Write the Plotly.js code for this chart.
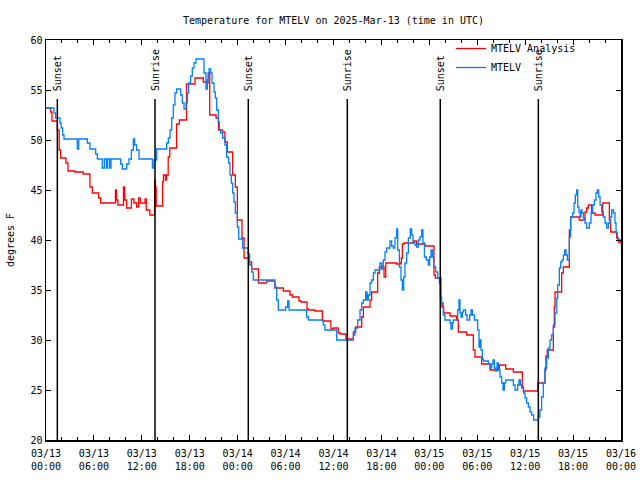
<!DOCTYPE html>
<html>
<head>
<meta charset="utf-8">
<script src="https://cdn.plot.ly/plotly-3.0.1.min.js"></script>
<style>html,body{margin:0;padding:0;background:#fff;}#chart{width:640px;height:480px;}</style>
</head>
<body>
<div id="chart"></div>
<script>
// ---- Data (hours after 2025-03-13 00:00 UTC, temperature in degrees F) ----
const startDate = '2025-03-13 00:00';
const endDate = '2025-03-16 00:00';

const analysisName = 'MTELV Analysis';
const analysisHours = [0,0.58,0.75,1.42,1.65,1.84,2.5,2.75,3.6,4.67,5.5,5.8,6.6,6.85,8.7,8.82,9.0,9.7,9.85,10.1,10.7,11.0,11.35,11.6,11.8,12.4,12.55,13.0,13.6,13.7,13.8,14.6,14.7,14.95,15.1,15.3,15.5,16.35,16.7,17.6,18.66,19.7,20.1,20.3,20.5,21.3,21.6,22.1,22.4,22.7,23.37,23.71,23.96,24.54,24.8,25.45,25.75,26.6,27.63,28.67,29.72,30.55,30.85,31.68,31.93,32.68,32.85,33.68,34.6,35.68,35.98,36.6,36.81,37.56,38.49,38.78,39.53,39.74,40.58,40.78,41.53,41.74,42.33,42.54,43.91,44.41,44.5,44.62,44.83,46.0,46.41,47.46,48.58,48.75,49.46,49.6,49.8,50.59,51.42,51.63,52.68,53.51,53.72,54.55,55.6,56.77,57.56,58.52,59.64,59.77,61.56,62.48,62.6,62.77,63.53,63.65,63.74,64.57,64.78,65.53,65.7,66.78,67.49,67.7,67.91,68.33,68.75,69.71,70.54,70.71,71.46,71.67,72];
const analysisTemps = [53.2,52.8,51.9,51.0,49.0,48.2,47.7,46.9,46.8,46.6,45.3,44.7,44.2,43.7,45.0,44.0,43.5,45.3,44.0,43.2,44.1,43.7,43.3,44.2,43.7,44.1,43.0,42.5,46.0,45.3,43.4,45.8,46.5,46.0,46.5,48.3,49.2,51.6,52.0,55.6,56.2,55.8,55.7,56.7,52.5,52.2,51.0,50.8,49.8,48.8,46.5,45.3,42.0,40.2,38.2,37.8,37.1,35.7,35.9,35.2,34.9,34.5,34.3,33.9,33.8,33.1,33.0,32.9,31.9,31.1,31.2,30.7,30.6,30.1,30.8,31.3,32.3,33.3,34.0,34.8,36.7,37.3,36.3,37.7,37.6,37.7,38.2,39.6,39.7,39.9,39.6,39.4,36.5,36.2,33.5,33.3,32.7,32.4,32.0,30.8,30.5,29.0,28.3,27.6,27.0,27.5,27.1,26.8,25.3,24.9,25.7,27.0,28.4,29.0,31.3,33.3,34.8,36.7,37.3,41.0,42.3,42.0,42.8,43.2,43.5,42.7,42.5,43.7,42.0,40.8,40.2,39.8,39.6];

const obsName = 'MTELV';
const obsHours = [0,1.0,1.2,1.75,1.9,2.09,2.25,3.92,4.1,5.18,5.51,6.22,6.43,7.05,7.3,7.55,7.72,7.97,8.14,9.35,9.56,10.1,10.39,10.69,10.94,11.1,11.35,11.65,13.32,13.52,13.86,15.11,15.32,15.53,15.74,15.94,16.15,16.36,16.86,17.07,17.28,17.53,17.7,17.86,18.11,18.32,18.53,18.78,19.78,20.03,20.2,20.41,20.62,20.79,21.04,21.2,21.37,21.58,21.71,21.87,22.12,22.41,22.62,22.87,23.04,23.21,23.37,23.54,23.71,23.96,24.13,24.63,25.3,25.5,25.75,25.96,28.67,28.88,29.09,30.01,30.26,30.43,32.64,32.85,34.73,34.93,36.4,38.49,38.69,39.03,39.32,39.53,39.74,40.03,40.2,40.36,40.57,40.78,40.99,41.2,41.82,42.03,42.24,42.45,42.66,43.07,43.28,43.49,43.7,43.91,44.04,44.25,44.45,44.62,44.79,44.95,45.16,45.37,45.62,45.79,45.96,46.2,46.41,46.62,46.83,47.04,47.21,47.38,47.63,47.88,48.04,48.21,48.38,48.55,48.8,49.05,49.26,49.38,49.54,49.75,49.96,50.59,50.71,50.88,51.0,51.55,51.71,51.84,51.97,52.13,52.3,52.55,52.72,53.05,53.22,53.39,53.64,54.05,54.22,54.35,54.47,54.64,54.76,55.39,55.6,55.81,55.97,56.14,56.31,56.48,56.64,56.85,57.06,57.23,57.39,57.56,58.52,58.73,59.06,59.23,59.4,59.56,59.81,59.98,60.19,60.4,60.61,60.82,61.06,61.65,61.85,62.06,62.27,62.48,62.69,62.9,63.11,63.32,63.53,63.74,63.95,64.07,64.28,64.45,64.62,64.78,64.95,65.12,65.28,65.53,65.7,65.95,66.12,66.28,66.45,66.58,66.74,66.87,66.99,67.12,67.29,67.49,67.7,68.04,68.25,68.45,68.66,68.87,69.04,69.21,69.38,69.58,69.79,70.0,70.21,70.42,70.63,70.84,71.05,71.25,71.38,71.55,71.71,72];
const obsTemps = [53.2,52.7,52.2,51.7,51.2,50.5,50.1,49.1,50.1,49.7,49.1,48.6,48.1,47.2,48.1,47.2,48.1,47.2,48.1,47.6,47.1,47.6,48.1,49.0,50.1,49.5,49.0,48.1,47.2,48.0,49.1,49.7,50.2,51.0,52.2,53.5,54.7,55.1,54.5,53.7,53.1,53.7,54.7,55.7,56.4,57.2,57.7,58.1,56.7,55.1,56.0,57.1,56.7,55.7,54.8,54.2,53.0,51.8,51.0,50.7,50.2,49.5,48.3,47.7,46.5,45.7,44.7,43.8,42.7,41.3,40.1,39.2,38.6,37.5,36.8,36.0,35.3,34.0,33.0,33.3,33.9,33.0,32.3,32.0,31.5,31.0,30.0,30.5,31.2,32.0,33.0,33.7,34.0,34.8,34.0,34.5,35.7,36.0,36.7,37.0,37.7,37.1,38.0,38.8,39.2,39.9,39.4,39.2,40.2,41.1,39.0,37.3,36.0,35.0,36.3,37.7,38.7,40.2,41.1,40.5,39.8,39.5,39.3,40.0,40.3,41.0,39.7,38.3,38.0,37.5,38.3,39.0,38.3,37.3,36.8,36.2,35.7,34.3,33.7,32.5,32.0,31.7,31.1,31.7,32.0,33.0,34.0,32.7,32.3,32.8,33.0,32.5,32.0,32.5,33.0,32.5,32.0,31.0,29.3,30.0,29.0,28.1,27.9,27.6,27.2,27.6,28.0,27.2,26.9,27.7,27.0,26.3,25.7,25.0,25.7,26.0,25.5,25.0,25.5,26.0,25.5,25.2,24.7,24.2,23.7,23.3,22.8,22.5,22.0,22.3,23.0,24.3,25.7,27.2,28.2,29.2,30.0,30.5,31.5,32.7,34.2,35.5,37.2,37.8,38.0,38.5,39.0,38.5,38.0,40.3,42.3,42.7,43.7,44.5,45.0,43.3,42.8,42.3,43.0,42.7,42.2,41.7,41.2,41.7,42.7,43.5,44.0,44.7,45.0,44.3,43.5,42.8,42.3,41.7,41.2,41.7,42.3,43.0,42.7,41.7,40.7,40.1,40.0,40.0];

const sunHours = [1.42, 13.65, 25.33, 37.73, 49.37, 61.65];
const sunLabels = ['Sunset', 'Sunrise', 'Sunset', 'Sunrise', 'Sunset', 'Sunrise'];

const titleText = 'Temperature for MTELV on 2025-Mar-13 (time in UTC)';
const yTitle = 'degrees F';

// ---- helpers ----
const T0 = Date.UTC(2025, 2, 13);
function toTime(h) {
  const d = new Date(T0 + Math.round(h * 3600000));
  return d.toISOString().replace('T', ' ').slice(0, 19);
}

const FONT = 'DejaVu Sans Mono, Liberation Mono, monospace';

const traces = [
  {
    x: analysisHours.map(toTime), y: analysisTemps, name: analysisName,
    type: 'scatter', mode: 'lines', line: {color: '#ff0000', width: 1.3, shape: 'hv'}
  },
  {
    x: obsHours.map(toTime), y: obsTemps, name: obsName,
    type: 'scatter', mode: 'lines', line: {color: '#0080ff', width: 1.3, shape: 'hv'}
  }
];

const shapes = sunHours.map(h => ({
  type: 'line', xref: 'x', yref: 'paper', x0: toTime(h), x1: toTime(h), y0: 0, y1: 0.8525,
  line: {color: 'black', width: 1.5}, layer: 'above'
}));
const annotations = sunHours.map((h, i) => ({
  x: toTime(h), xref: 'x', y: 0.87, yref: 'paper', text: sunLabels[i], textangle: -90,
  showarrow: false, xanchor: 'center', yanchor: 'bottom', font: {family: FONT, size: 10, color: 'black'},
  borderpad: 0
}));

const layout = {
  width: 640, height: 480,
  margin: {l: 46, r: 19, t: 40, b: 40},
  paper_bgcolor: 'white', plot_bgcolor: 'white',
  font: {family: FONT, size: 10, color: 'black'},
  title: {text: titleText, x: 0.5, xref: 'paper', xanchor: 'center', y: 1 - 20 / 480, yref: 'container', yanchor: 'middle',
    font: {family: FONT, size: 10, color: 'black'}},
  showlegend: true,
  legend: {x: 0.9304, xanchor: 'right', y: 1.015, yanchor: 'top', bgcolor: 'rgba(0,0,0,0)', font: {family: FONT, size: 10}, tracegroupgap: 0},
  xaxis: {
    type: 'date', range: [startDate, endDate], tickmode: 'linear', tick0: startDate, dtick: 6 * 3600000,
    tickformat: '%m/%d<br>%H:%M', ticks: 'inside', ticklen: 5, tickwidth: 1, tickcolor: 'black',
    showline: true, linecolor: 'black', linewidth: 1.5, mirror: 'ticks', showgrid: false, zeroline: false,
    tickfont: {family: FONT, size: 10}, ticklabelstandoff: 3,
    minor: {tick0: startDate, dtick: 2 * 3600000, ticks: 'inside', ticklen: 3, tickcolor: 'black', tickwidth: 1, showgrid: false}
  },
  yaxis: {
    range: [20, 60], tickmode: 'linear', tick0: 20, dtick: 5, ticks: 'inside', ticklen: 5, tickwidth: 1, tickcolor: 'black',
    showline: true, linecolor: 'black', linewidth: 1.5, mirror: 'ticks', showgrid: false, zeroline: false,
    tickfont: {family: FONT, size: 10},
    title: {text: yTitle, font: {family: FONT, size: 10}, standoff: 14}
  },
  shapes: shapes,
  annotations: annotations
};

Plotly.newPlot('chart', traces, layout, {staticPlot: true, displayModeBar: false});
</script>
</body>
</html>
